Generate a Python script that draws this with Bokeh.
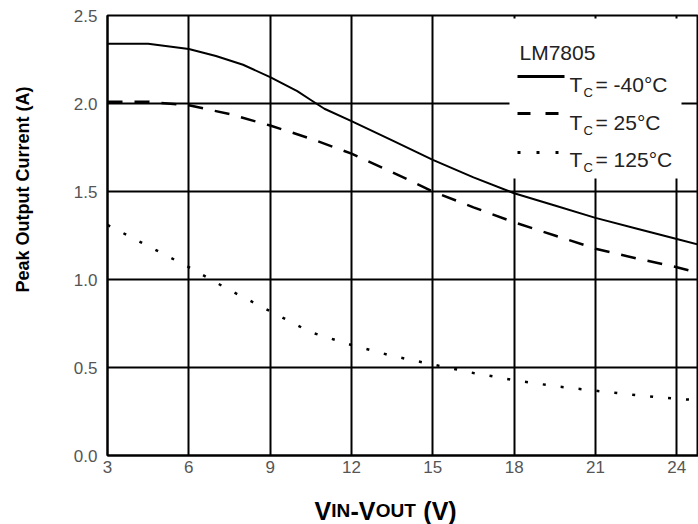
import math
from bokeh.plotting import figure
from bokeh.layouts import row, column
from bokeh.models import Range1d, FixedTicker, Label, PrintfTickFormatter
from bokeh.embed import file_html
from bokeh.resources import INLINE

# ---- data ----
x_ticks = [3, 6, 9, 12, 15, 18, 21, 24]
y_ticks = [0.0, 0.5, 1.0, 1.5, 2.0, 2.5]

x_m40 = [3, 4.5, 6, 7, 8, 9, 10, 10.5, 11, 12, 13.5, 15, 16.5, 18, 19.5, 21, 22.5, 24, 25]
y_m40 = [2.34, 2.34, 2.31, 2.27, 2.22, 2.15, 2.07, 2.02, 1.97, 1.90, 1.79, 1.68, 1.58, 1.49, 1.42, 1.35, 1.29, 1.23, 1.19]

x_25 = [3, 4.5, 6, 7.5, 9, 10.5, 12, 13.5, 15, 16.5, 18, 19.5, 21, 22.5, 24, 25]
y_25 = [2.01, 2.01, 1.99, 1.94, 1.875, 1.80, 1.715, 1.61, 1.50, 1.41, 1.325, 1.25, 1.175, 1.12, 1.07, 1.03]

x_125 = [3, 4.5, 6, 7.5, 9, 10.5, 12, 13.5, 15, 16.5, 18, 19.5, 21, 22.5, 24, 25]
y_125 = [1.31, 1.19, 1.07, 0.94, 0.82, 0.70, 0.628, 0.566, 0.517, 0.469, 0.428, 0.394, 0.368, 0.343, 0.322, 0.312]

legend_title = "LM7805"
legend_temps = ["= -40°C", "= 25°C", "= 125°C"]
y_title = "Peak Output Current (A)"
x_title_parts = ["V", "IN", "-V", "OUT", "(V)"]

# ---- layout ----
W, H = 698, 524
YW = 45            # width of the y-title strip
XH = 44            # height of the x-title strip
MH = H - XH        # height of the main figure
X0, X1 = 3, 24.8
Y0, Y1 = 0, 2.5
FL, FR, FT, FB = 107, 698, 15, 455  # frame edges in page pixels
FONT = "Liberation Sans"


def dx(px):
    return X0 + (px - FL) * (X1 - X0) / (FR - FL)


def dy(py):
    return Y1 - (py - FT) * (Y1 - Y0) / (FB - FT)


def strip(w, h):
    f = figure(width=w, height=h, x_range=Range1d(0, 1), y_range=Range1d(0, 1),
               output_backend="svg", toolbar_location=None,
               x_axis_location=None, y_axis_location=None,
               min_border_left=0, min_border_right=0, min_border_top=0, min_border_bottom=0)
    f.outline_line_color = None
    f.xgrid.visible = False
    f.ygrid.visible = False
    f.background_fill_color = "white"
    f.border_fill_color = "white"
    return f


p = figure(width=W - YW, height=MH, x_range=Range1d(X0, X1), y_range=Range1d(Y0, Y1),
           output_backend="svg", toolbar_location=None,
           min_border_left=FL - YW, min_border_right=W - FR, min_border_top=FT,
           min_border_bottom=MH - FB)
p.background_fill_color = "white"
p.border_fill_color = "white"
p.outline_line_color = "black"
p.outline_line_width = 2

for ax in (p.xaxis[0], p.yaxis[0]):
    ax.axis_line_color = "black"
    ax.axis_line_width = 2
    ax.major_tick_in = 0
    ax.major_tick_out = 0
    ax.minor_tick_in = 0
    ax.minor_tick_out = 0
    ax.major_label_text_font = FONT
    ax.major_label_text_font_size = "17px"
    ax.major_label_text_color = "#555555"

p.xaxis.ticker = FixedTicker(ticks=x_ticks)
p.yaxis.ticker = FixedTicker(ticks=y_ticks)
p.yaxis.formatter = PrintfTickFormatter(format="%.1f")
p.xaxis.major_label_standoff = 5
p.yaxis.major_label_standoff = 10

p.xgrid.grid_line_color = "black"
p.ygrid.grid_line_color = "black"
p.xgrid.grid_line_width = 2
p.ygrid.grid_line_width = 2

# white legend box (covers grid)
p.quad(left=[dx(509)], right=[dx(681)], top=[dy(18)], bottom=[dy(178)],
       fill_color="white", line_color=None)

# curves
p.line(x_m40, y_m40, line_color="black", line_width=2)
p.line(x_25, y_25, line_color="black", line_width=2.5, line_dash="15 12")
p.line(x_125, y_125, line_color="black", line_width=2.5, line_dash="3 15")

# legend keys
p.line([dx(517), dx(564)], [dy(76), dy(76)], line_color="black", line_width=3)
p.line([dx(517), dx(562)], [dy(113), dy(113)], line_color="black", line_width=3, line_dash="13 15")
p.line([dx(517), dx(558)], [dy(152), dy(152)], line_color="black", line_width=3, line_dash="3 16")

p.add_layout(Label(x=dx(519), y=dy(52), text=legend_title, text_font=FONT,
                   text_font_size="21px", text_color="#222222",
                   text_baseline="alphabetic"))
for base, t in zip([84, 122, 159], legend_temps):
    p.add_layout(Label(x=dx(569), y=dy(base), text="T", text_font=FONT,
                       text_font_size="21px", text_color="#222222", text_baseline="alphabetic"))
    p.add_layout(Label(x=dx(583), y=dy(base + 8), text="C", text_font=FONT,
                       text_font_size="13px", text_color="#222222", text_baseline="alphabetic"))
    p.add_layout(Label(x=dx(595), y=dy(base), text=t, text_font=FONT,
                       text_font_size="21px", text_color="#222222", text_baseline="alphabetic"))

# y title strip (its frame is aligned with the main frame: FT..FB)
yf = strip(YW, MH)
yf.add_layout(Label(x=22.5, y=FB - 189, x_units="screen", y_units="screen",
                    text=y_title, angle=math.pi / 2,
                    text_font=FONT, text_font_style="bold", text_font_size="18px",
                    text_color="black", text_align="center", text_baseline="middle"))

# x title strip (small caps built from pieces)
xf = strip(W, XH)
sizes = [25, 19, 25, 19, 25]
advance = [16.8, 19.2, 25.2, 47.6, 0.0]   # px advance of each piece (incl. space before "(V)")
xpos = 314
for txt, size, adv in zip(x_title_parts, sizes, advance):
    xf.add_layout(Label(x=xpos, y=H - 510, x_units="screen", y_units="screen", text=txt,
                        text_font=FONT, text_font_style="bold", text_font_size=f"{size}px",
                        text_color="black", text_baseline="alphabetic"))
    xpos += adv

layout = column(row(yf, p, spacing=0), xf, spacing=0)
open("out.html", "w").write(file_html(layout, INLINE))
